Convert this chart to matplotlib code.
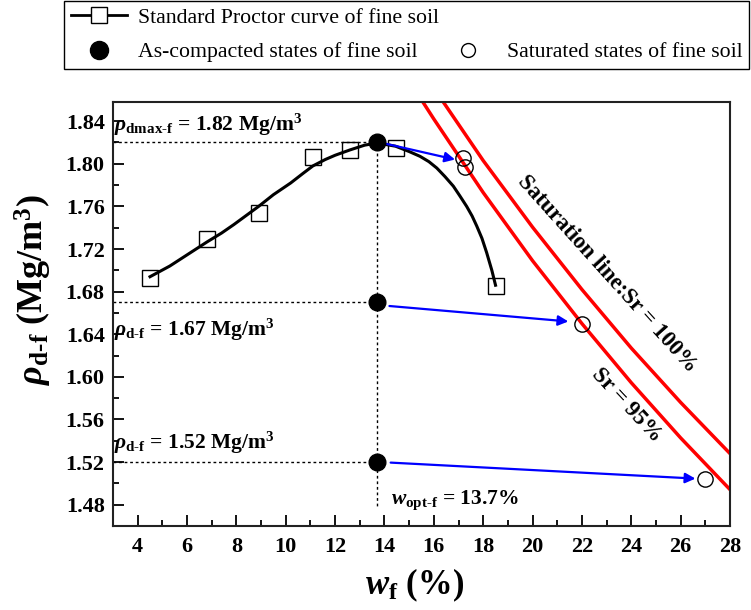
import matplotlib
matplotlib.use('Agg')
import matplotlib.pyplot as plt
from matplotlib.lines import Line2D
from matplotlib.ticker import MultipleLocator

plt.rcParams['font.family'] = ['Liberation Serif', 'DejaVu Serif']
plt.rcParams['font.weight'] = 'bold'
plt.rcParams['mathtext.fontset'] = 'custom'
plt.rcParams['mathtext.rm'] = 'Liberation Serif:bold'
plt.rcParams['mathtext.bf'] = 'Liberation Serif:bold'
plt.rcParams['mathtext.it'] = 'Liberation Serif:italic:bold'

# standard Proctor test points
proctor_w = [4.5, 6.8, 8.9, 11.1, 12.6, 14.45, 18.5]
proctor_rho = [1.693, 1.729, 1.754, 1.806, 1.813, 1.815, 1.685]

# compaction curve
curve_w = [4.5, 5.3, 6.1, 6.8, 7.4, 7.9, 8.4, 8.9, 9.5, 10.2, 10.7, 11.1, 11.6, 12.0,
           12.6, 13.2, 13.7, 14.45, 15.0, 15.44, 15.8, 16.12, 16.45, 16.79, 17.05,
           17.33, 17.55, 17.74, 17.95, 18.14, 18.35, 18.5]
curve_rho = [1.694, 1.704, 1.716, 1.7265, 1.735, 1.743, 1.7515, 1.760, 1.771, 1.782,
             1.791, 1.798, 1.804, 1.808, 1.813, 1.8175, 1.8195, 1.8165, 1.8115, 1.807,
             1.802, 1.796, 1.788, 1.779, 1.770, 1.760, 1.751, 1.7415, 1.730, 1.7166,
             1.700, 1.686]

# as-compacted and saturated states
comp_w = [13.7, 13.7, 13.7]
comp_rho = [1.82, 1.67, 1.52]
sat_w = [17.17, 17.26, 22.0, 27.0]
sat_rho = [1.805, 1.797, 1.650, 1.504]

# arrows (start w, start rho, end w, end rho)
arrows = [(14.02, 1.819, 16.86, 1.804),
          (14.2, 1.6665, 21.45, 1.652),
          (14.25, 1.5195, 26.6, 1.5045)]

# saturation lines
sr100_w = [15.0, 16, 18, 20, 22, 24, 26, 28]
sr100_rho = [1.907, 1.871, 1.803, 1.7405, 1.682, 1.627, 1.576, 1.528]
sr95_w = [14.0, 15, 16, 18, 20, 22, 24, 26, 28]
sr95_rho = [1.916, 1.878, 1.842, 1.773, 1.709, 1.650, 1.5945, 1.5427, 1.4942]

fig = plt.figure(figsize=(7.51, 6.10), dpi=100)
ax = fig.add_axes([113/751, 84/610, 617/751, 424/610])

ax.plot(sr100_w, sr100_rho, color='#ff0000', lw=2.5, zorder=2)
ax.plot(sr95_w, sr95_rho, color='#ff0000', lw=2.5, zorder=2)

ax.plot(curve_w, curve_rho, color='black', lw=2.2, zorder=3, solid_joinstyle='round')
ax.plot(proctor_w, proctor_rho, ls='none', marker='s', ms=11, mfc='none',
        mec='black', mew=1.0, zorder=4)

# reference dotted lines
for r in comp_rho:
    ax.plot([3, comp_w[0]], [r, r], color='black', ls=(0, (2, 2)), lw=1.0, zorder=2)
ax.plot([comp_w[0], comp_w[0]], [comp_rho[0], 1.477], color='black', ls=(0, (2, 2)),
        lw=1.0, zorder=2)

ax.plot(comp_w, comp_rho, ls='none', marker='o', ms=12, color='black', zorder=5)
ax.plot(sat_w, sat_rho, ls='none', marker='o', ms=11, mfc='none', mec='black',
        mew=1.0, zorder=5)

for x0, y0, x1, y1 in arrows:
    ax.annotate('', xy=(x1, y1), xytext=(x0, y0),
                arrowprops=dict(arrowstyle='-|>', color='#0000ff', lw=1.6,
                                mutation_scale=15, shrinkA=0, shrinkB=0), zorder=4)

ax.text(3.05, 1.8245, r'$\rho_{\mathrm{dmax\text{-}f}}$ = 1.82 Mg/m$^{3}$', fontsize=15.5,
        ha='left', va='bottom')
ax.text(3.05, 1.632, r'$\rho_{\mathrm{d\text{-}f}}$ = 1.67 Mg/m$^{3}$', fontsize=15.5,
        ha='left', va='bottom')
ax.text(3.05, 1.526, r'$\rho_{\mathrm{d\text{-}f}}$ = 1.52 Mg/m$^{3}$', fontsize=15.5,
        ha='left', va='bottom')
ax.text(14.26, 1.473, r'$w_{\mathrm{opt\text{-}f}}$ = 13.7%', fontsize=15.5,
        ha='left', va='bottom')

ax.text(23.04, 1.6963, 'Saturation line:Sr = 100%', fontsize=16.5, rotation=-48,
        ha='center', va='center', rotation_mode='anchor')
ax.text(23.83, 1.5736, 'Sr = 95%', fontsize=16.5, rotation=-47,
        ha='center', va='center', rotation_mode='anchor')

ax.set_xlim(3, 28)
ax.set_ylim(1.46, 1.858)
ax.xaxis.set_minor_locator(MultipleLocator(1))
ax.yaxis.set_minor_locator(MultipleLocator(0.02))
ax.set_xticks(range(4, 29, 2))
ax.set_yticks([1.48, 1.52, 1.56, 1.60, 1.64, 1.68, 1.72, 1.76, 1.80, 1.84])
ax.set_yticklabels(['1.48', '1.52', '1.56', '1.60', '1.64', '1.68', '1.72', '1.76',
                    '1.80', '1.84'])
ax.tick_params(axis='both', which='both', direction='in', top=False, right=False,
               labelsize=16, width=1.3)
ax.tick_params(axis='both', which='major', length=8)
ax.tick_params(axis='both', which='minor', length=4)
ax.tick_params(axis='x', pad=8)
ax.tick_params(axis='y', pad=6)
for lab in ax.get_xticklabels() + ax.get_yticklabels():
    lab.set_fontweight('bold')
for sp in ax.spines.values():
    sp.set_linewidth(1.5)
    sp.set_color('#222222')

fig.text(415/751, 1 - 585/610, r'$w_{\mathrm{f}}$ (%)', fontsize=25, ha='center',
         va='center')
fig.text(33/751, 1 - 290/610, r'$\rho_{\mathrm{d\text{-}f}}$ (Mg/m$^{3}$)', fontsize=26,
         ha='center', va='center', rotation=90)

handles = [
    Line2D([], [], color='black', lw=2, marker='s', ms=11, mfc='white', mec='black',
           mew=1.0),
    Line2D([], [], ls='none', marker='o', ms=13, color='black'),
    Line2D([], [], ls='none', marker='none'),
    Line2D([], [], ls='none', marker='o', ms=10, mfc='white', mec='black', mew=1.0),
]
labels = ['Standard Proctor curve of fine soil', 'As-compacted states of fine soil',
          '', 'Saturated states of fine soil']
leg = fig.legend(handles, labels, ncol=2, loc='upper right',
                 bbox_to_anchor=(749/751, 1 - 1/610), borderaxespad=0,
                 prop={'family': 'Liberation Serif', 'weight': 'normal', 'size': 15.7},
                 frameon=True, fancybox=False, edgecolor='black', framealpha=1,
                 handlelength=2.6, handletextpad=0.5, columnspacing=0.0,
                 labelspacing=0.65, borderpad=0.3)
leg.get_frame().set_linewidth(1.0)

fig.savefig('out.png', dpi=100)
